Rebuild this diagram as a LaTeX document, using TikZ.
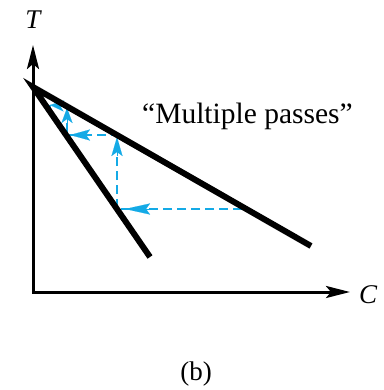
\documentclass[tikz,border=0pt]{standalone}
\usepackage{fontspec}
\setmainfont{Liberation Serif}
\usetikzlibrary{arrows.meta}
\definecolor{flowblue}{RGB}{20,170,230}
\tikzset{
  axisline/.style={line width=3pt, {Stealth[length=24pt,width=12pt,inset=5pt]}-{Stealth[length=24pt,width=12pt,inset=5pt]}},
  opline/.style={line width=6pt},
  passline/.style={flowblue, line width=1.6pt, dash pattern=on 9pt off 5pt},
  passhead/.style={flowblue, line width=0.1pt, -{Stealth[length=#1,width=11pt,inset=4pt]}},
  lbl/.style={font=\fontsize{27}{30}\selectfont, inner sep=0pt},
  biglbl/.style={font=\fontsize{29.5}{32}\selectfont, inner sep=0pt},
}
\begin{document}
\begin{tikzpicture}[x=1pt,y=-1pt]
\useasboundingbox (0,0) rectangle (383,390);
% coordinates
\coordinate (top) at (33,45);
\coordinate (O) at (33,292);
\coordinate (right) at (350,292);
\coordinate (A) at (33,87);
\coordinate (U) at (311,246);
\coordinate (L) at (150,257);
\coordinate (s0) at (242,209);
\coordinate (s1) at (117,209);
\coordinate (s2) at (117,135);
\coordinate (s3) at (67,135);
\coordinate (s4) at (67,106);
\coordinate (s5) at (48,106);
% dashed staircase
\draw[passline] (s0) -- (s1) -- (s2) -- (s3) -- (s4) -- (s5);
% arrowheads
\draw[passhead=25pt] (150,209) -- (125,209);
\draw[passhead=19pt] (117,156) -- (117,137);
\draw[passhead=20pt] (90,135) -- (70,135);
\draw[passhead=15pt] (67,123) -- (67,108);
\draw[passhead=14pt] (64,106) -- (50,105);
% operating lines
\draw[opline] (U) -- (A) -- (L);
% axes
\draw[axisline] (top) -- (O) -- (right);
% labels
\node[lbl] (tl) at (33,20) {\itshape T};
\node[lbl] (cl) at (368,295) {\itshape C};
\node[biglbl, anchor=base west] (mp) at (142,124) {“Multiple passes”};
\node[lbl] (bl) at (196,374) {(b)};
\end{tikzpicture}
\end{document}
